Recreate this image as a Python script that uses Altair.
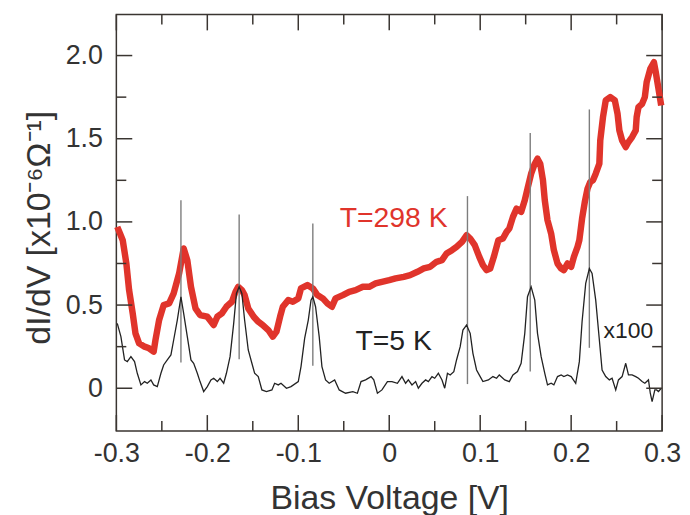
import altair as alt
import pandas as pd

# ---------------- data ----------------
# T = 298 K  (red)
red_v = [-0.299, -0.296, -0.293, -0.289, -0.286, -0.282, -0.279, -0.275, -0.269, -0.264, -0.259,
         -0.257, -0.253, -0.248, -0.242, -0.237, -0.231, -0.226, -0.222, -0.218, -0.213, -0.208,
         -0.200, -0.193, -0.189, -0.184, -0.179, -0.173, -0.169, -0.166, -0.162, -0.159, -0.155,
         -0.149, -0.144, -0.139, -0.133, -0.128, -0.124, -0.120, -0.117, -0.111, -0.106, -0.100,
         -0.097, -0.090, -0.084, -0.079, -0.073, -0.068, -0.063, -0.059, -0.051, -0.044, -0.037,
         -0.029, -0.022, -0.015, -0.008, 0.000, 0.007, 0.016, 0.023, 0.031, 0.038, 0.045, 0.052,
         0.058, 0.063, 0.069, 0.074, 0.080, 0.085, 0.089, 0.094, 0.099, 0.103, 0.107, 0.111,
         0.115, 0.120, 0.125, 0.129, 0.132, 0.136, 0.140, 0.145, 0.149, 0.152, 0.156, 0.160,
         0.163, 0.166, 0.169, 0.171, 0.174, 0.178, 0.181, 0.185, 0.189, 0.192, 0.196, 0.200,
         0.203, 0.207, 0.209, 0.212, 0.215, 0.218, 0.221, 0.224, 0.227, 0.231, 0.232, 0.235,
         0.238, 0.243, 0.248, 0.251, 0.253, 0.256, 0.260, 0.263, 0.267, 0.271, 0.272, 0.274,
         0.278, 0.281, 0.283, 0.287, 0.291, 0.293, 0.296, 0.299]
red_g = [0.97, 0.93, 0.89, 0.75, 0.59, 0.45, 0.33, 0.27, 0.25, 0.24, 0.22,
         0.29, 0.41, 0.50, 0.51, 0.57, 0.69, 0.84, 0.77, 0.61, 0.48, 0.44,
         0.43, 0.38, 0.43, 0.45, 0.49, 0.52, 0.58, 0.61, 0.59, 0.56, 0.48,
         0.43, 0.40, 0.38, 0.35, 0.31, 0.34, 0.43, 0.49, 0.53, 0.52, 0.54,
         0.60, 0.62, 0.60, 0.56, 0.54, 0.51, 0.49, 0.54, 0.56, 0.58, 0.59,
         0.61, 0.61, 0.63, 0.64, 0.65, 0.66, 0.67, 0.68, 0.70, 0.72, 0.73, 0.76,
         0.77, 0.81, 0.83, 0.85, 0.88, 0.92, 0.90, 0.86, 0.79, 0.74, 0.71, 0.72,
         0.79, 0.89, 0.90, 0.94, 0.96, 1.03, 1.08, 1.06, 1.13, 1.20, 1.29, 1.35,
         1.38, 1.35, 1.25, 1.13, 1.01, 0.93, 0.83, 0.75, 0.72, 0.71, 0.75, 0.73,
         0.79, 0.85, 0.89, 1.02, 1.12, 1.20, 1.24, 1.25, 1.29, 1.35, 1.49, 1.63,
         1.73, 1.75, 1.73, 1.65, 1.55, 1.49, 1.45, 1.48, 1.51, 1.55, 1.63, 1.69,
         1.71, 1.75, 1.84, 1.92, 1.96, 1.90, 1.80, 1.70]

# T = 5 K  (black, x100)
blk_v = [-0.299, -0.295, -0.291, -0.288, -0.284, -0.280, -0.277, -0.273, -0.269, -0.266, -0.262,
         -0.259, -0.255, -0.251, -0.248, -0.244, -0.240, -0.237, -0.233, -0.229, -0.226, -0.222,
         -0.218, -0.215, -0.211, -0.208, -0.204, -0.200, -0.196, -0.193, -0.189, -0.186, -0.182,
         -0.179, -0.175, -0.171, -0.168, -0.165, -0.162, -0.159, -0.155, -0.151, -0.148, -0.144,
         -0.140, -0.135, -0.129, -0.126, -0.122, -0.119, -0.113, -0.108, -0.100, -0.097, -0.093,
         -0.089, -0.086, -0.084, -0.081, -0.077, -0.074, -0.070, -0.066, -0.060, -0.055, -0.048,
         -0.040, -0.035, -0.031, -0.026, -0.020, -0.017, -0.013, -0.008, -0.002, 0.003, 0.009,
         0.014, 0.018, 0.021, 0.025, 0.029, 0.032, 0.036, 0.040, 0.043, 0.047, 0.050, 0.054,
         0.058, 0.061, 0.064, 0.067, 0.071, 0.074, 0.078, 0.081, 0.085, 0.089, 0.092, 0.096,
         0.100, 0.103, 0.109, 0.114, 0.118, 0.121, 0.127, 0.132, 0.136, 0.141, 0.145, 0.149,
         0.152, 0.156, 0.160, 0.163, 0.167, 0.171, 0.174, 0.178, 0.181, 0.185, 0.189, 0.192,
         0.196, 0.200, 0.205, 0.209, 0.212, 0.216, 0.220, 0.223, 0.227, 0.231, 0.234, 0.238,
         0.242, 0.245, 0.249, 0.252, 0.256, 0.260, 0.263, 0.267, 0.271, 0.274, 0.278, 0.281,
         0.285, 0.287, 0.289, 0.292, 0.294, 0.296, 0.299]
blk_g = [0.39, 0.31, 0.17, 0.16, 0.19, 0.16, 0.09, 0.02, 0.04, 0.03, 0.05,
         0.02, 0.01, 0.09, 0.14, 0.17, 0.20, 0.29, 0.41, 0.55, 0.45, 0.31,
         0.17, 0.15, 0.09, 0.04, -0.02, 0.01, 0.05, 0.06, 0.04, 0.06, 0.03,
         0.09, 0.19, 0.39, 0.57, 0.61, 0.57, 0.41, 0.23, 0.15, 0.09, 0.07,
         -0.01, -0.02, -0.01, 0.03, 0.02, 0.03, 0.00, 0.01, 0.04, 0.13, 0.30,
         0.41, 0.53, 0.55, 0.49, 0.31, 0.13, 0.05, 0.03, 0.05, -0.01, -0.03,
         -0.02, -0.03, 0.04, 0.05, 0.07, 0.05, -0.03, -0.01, 0.04, 0.04, 0.03,
         0.07, 0.03, 0.05, 0.02, 0.04, 0.00, 0.03, 0.05, 0.04, 0.07, 0.06, 0.09,
         0.05, 0.00, 0.09, 0.08, 0.10, 0.17, 0.25, 0.35, 0.38, 0.33, 0.21, 0.11,
         0.07, 0.04, 0.05, 0.07, 0.06, 0.08, 0.05, 0.04, 0.08, 0.10, 0.15, 0.33,
         0.55, 0.61, 0.53, 0.33, 0.19, 0.09, 0.02, 0.03, 0.02, 0.07, 0.08, 0.07,
         0.08, 0.07, 0.03, 0.16, 0.40, 0.63, 0.72, 0.69, 0.53, 0.29, 0.11, 0.07,
         0.05, 0.06, -0.01, 0.05, 0.07, 0.15, 0.08, 0.08, 0.07, 0.06, 0.04, 0.03,
         0.05, -0.03, -0.08, -0.01, -0.01, -0.02, 0.00]

# vertical marker lines at the 5 K peaks
peak_v = [-0.229, -0.165, -0.084, 0.086, 0.155, 0.220]
peak_lo = [0.155, 0.175, 0.135, 0.025, 0.100, 0.243]
peak_hi = [1.130, 1.045, 0.990, 1.155, 1.535, 1.676]

# axis ticks / labels
x_major = [-0.3, -0.2, -0.1, 0.0, 0.1, 0.2, 0.3]
x_minor = [-0.25, -0.15, -0.05, 0.05, 0.15, 0.25]
y_major = [0.0, 0.5, 1.0, 1.5, 2.0]
y_minor = [0.25, 0.75, 1.25, 1.75]

# annotations
ann_text = ["T=298 K", "T=5 K", "x100"]
ann_v = [-0.0545, -0.0371, 0.2356]
ann_g = [0.967, 0.227, 0.300]
ann_color = ["#e0342b", "#222222", "#222222"]
ann_size = [28.5, 28.5, 23]

# ---------------- styling ----------------
FONT = "Liberation Sans"
RED = "#e0342b"
AX = "#3a3531"
W, H = 549, 419

xs = alt.Scale(domain=[-0.3, 0.3], nice=False, zero=False)
ys = alt.Scale(domain=[-0.257, 2.247], nice=False, zero=False)

lab = ("datum.value == 0 ? '0' : (datum.value < 0 ? '-' + format(-datum.value, '.1f') "
       ": format(datum.value, '.1f'))")

x_axis = alt.Axis(values=x_major, labelExpr=lab, ticks=False, domain=False, grid=False,
                  labelFont=FONT, labelFontSize=27, labelColor="#333333", labelPadding=10,
                  labelOverlap=False, labelFlush=False,
                  title="Bias Voltage [V]", titleFont=FONT, titleFontSize=34,
                  titleFontWeight="normal", titleColor="#333333",
                  titleX=W / 2, titleY=78, titleBaseline="alphabetic", titleAlign="center")
y_axis = alt.Axis(values=y_major, labelExpr=lab, ticks=False, domain=False, grid=False,
                  labelFont=FONT, labelFontSize=27, labelColor="#333333", labelPadding=14,
                  labelOverlap=False, labelFlush=False,
                  title="dI/dV [x10⁻⁶Ω⁻¹]", titleFont=FONT, titleFontSize=34,
                  titleFontWeight="normal", titleColor="#333333",
                  titleX=-67, titleY=214, titleAngle=270, titleBaseline="alphabetic",
                  titleAlign="center")

red_df = pd.DataFrame({"v": red_v, "g": red_g})
blk_df = pd.DataFrame({"v": blk_v, "g": blk_g})
pk_df = pd.DataFrame({"v": peak_v, "lo": peak_lo, "hi": peak_hi})
ann_df = pd.DataFrame({"v": ann_v, "g": ann_g, "t": ann_text, "c": ann_color, "s": ann_size})


def X(field):
    return alt.X(field, scale=xs, axis=x_axis)


def Y(field):
    return alt.Y(field, scale=ys, axis=y_axis)


red = alt.Chart(red_df).mark_line(color=RED, strokeWidth=6.5, strokeJoin="round").encode(
    x=X("v:Q"), y=Y("g:Q"), order="v:Q")

peaks = alt.Chart(pk_df).mark_rule(color="#7d7d7d", strokeWidth=1.4).encode(
    x=X("v:Q"), y=Y("lo:Q"), y2="hi:Q")

blk = alt.Chart(blk_df).mark_line(color="#222222", strokeWidth=1.3).encode(
    x=X("v:Q"), y=Y("g:Q"), order="v:Q")

texts = alt.Chart(ann_df).mark_text(align="left", baseline="alphabetic", font=FONT).encode(
    x=X("v:Q"), y=Y("g:Q"),
    text="t:N",
    color=alt.Color("c:N", scale=None),
    size=alt.Size("s:Q", scale=None),
)


def xticks(vals, length):
    df = pd.DataFrame({"v": vals})
    bot = alt.Chart(df).mark_rule(color=AX, strokeWidth=1.5).encode(
        x=X("v:Q"), y=alt.value(H), y2=alt.value(H - length))
    top = alt.Chart(df).mark_rule(color=AX, strokeWidth=1.5).encode(
        x=X("v:Q"), y=alt.value(0), y2=alt.value(length))
    return [bot, top]


def yticks(vals, length):
    df = pd.DataFrame({"g": vals})
    left = alt.Chart(df).mark_rule(color=AX, strokeWidth=1.5).encode(
        y=Y("g:Q"), x=alt.value(0), x2=alt.value(length))
    right = alt.Chart(df).mark_rule(color=AX, strokeWidth=1.5).encode(
        y=Y("g:Q"), x=alt.value(W - length), x2=alt.value(W))
    return [left, right]


layers = [red, peaks, blk, texts] + xticks(x_major, 16) + xticks(x_minor, 10) \
    + yticks(y_major, 16) + yticks(y_minor, 10)

chart = alt.layer(*layers).properties(
    width=W, height=H,
    background="white",
    autosize=alt.AutoSizeParams(type="none"),
    padding={"left": 109, "top": 5, "right": 20, "bottom": 83},
).configure_view(stroke=AX, strokeWidth=1.5)

chart.save("out.html", embed_options={"renderer": "svg", "actions": False})
